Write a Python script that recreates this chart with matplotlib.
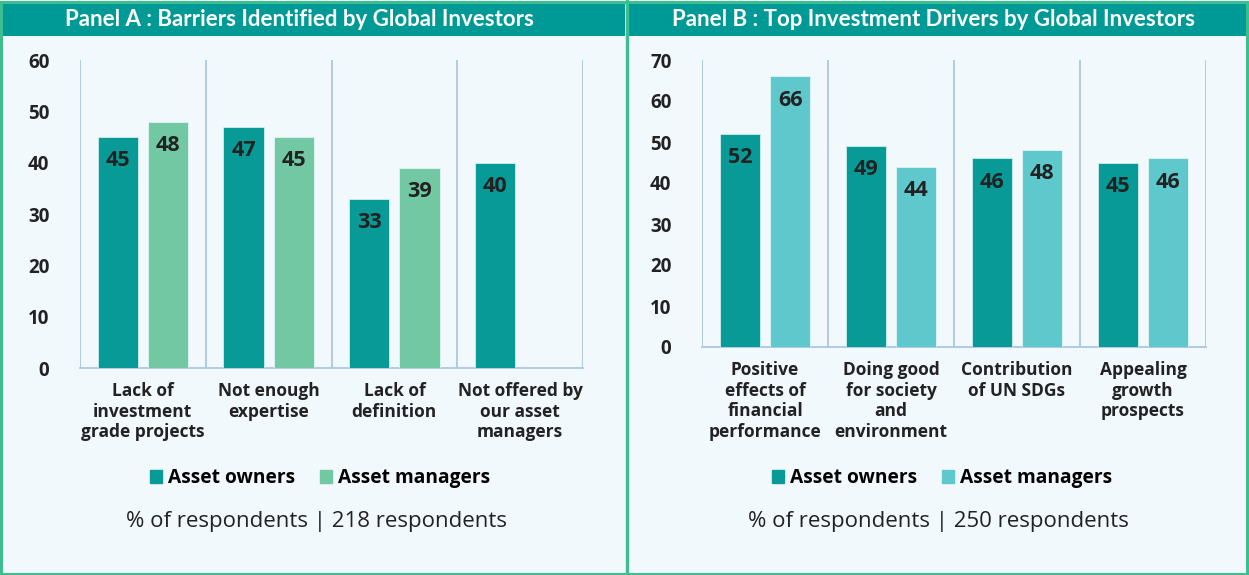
import numpy as np
import matplotlib.pyplot as plt
from matplotlib.patches import Rectangle, Patch

# ── Data ──────────────────────────────────────────────────────────────────────
series_names = ["Asset owners", "Asset managers"]

barrier_labels = ["Lack of\ninvestment\ngrade projects", "Not enough\nexpertise",
                  "Lack of\ndefinition", "Not offered by\nour asset\nmanagers"]
barrier_owners = [45, 47, 33, 40]
barrier_managers = [48, 45, 39, None]

driver_labels = ["Positive\neffects of\nfinancial\nperformance",
                 "Doing good\nfor society\nand\nenvironment",
                 "Contribution\nof UN SDGs", "Appealing\ngrowth\nprospects"]
driver_owners = [52, 49, 46, 45]
driver_managers = [66, 44, 48, 46]

panel_titles = ["Panel A : Barriers Identified by Global Investors",
                "Panel B : Top Investment Drivers by Global Investors"]
subtitles = ["% of respondents | 218 respondents",
             "% of respondents | 250 respondents"]

# ── Styling ───────────────────────────────────────────────────────────────────
W, H = 1249, 575
BG = "#f2f9fd"
BORDER = "#3dbe8e"
HEADER = "#009a96"
OWNER = "#079a96"
MANAGER_A = "#72c8a2"
MANAGER_B = "#5fc8cc"
GRID = "#a9c6e6"
TEXT = "#222222"
FONT = "Open Sans"


def fx(px):
    return px / W


def fy(py):
    return 1 - py / H


fig = plt.figure(figsize=(W / 100, H / 100), dpi=100)
fig.patch.set_facecolor(BG)

# background decorations: outer border, divider and header bars
deco = fig.add_axes([0, 0, 1, 1])
deco.set_xlim(0, W)
deco.set_ylim(H, 0)
deco.axis("off")
deco.add_patch(Rectangle((3, 3), 622, 33, color=HEADER, lw=0))
deco.add_patch(Rectangle((629, 3), 617, 33, color=HEADER, lw=0))
deco.add_patch(Rectangle((1.5, 1.5), W - 3, H - 3, fill=False, ec=BORDER, lw=2.2))
deco.plot([627.5, 627.5], [0, H], color=BORDER, lw=2.4)
deco.text(299, 20, panel_titles[0], color="white", fontsize=16, fontweight="bold",
          family="Lato", ha="center", va="center")
deco.text(934, 20, panel_titles[1], color="white", fontsize=16, fontweight="bold",
          family="Lato", ha="center", va="center")


def draw_panel(rect, labels, owners, managers, mgr_colour, ymax, subtitle,
               legend_x, sub_x):
    left, right, top, bottom = rect
    ax = fig.add_axes([fx(left), fy(bottom), fx(right - left), (bottom - top) / H])
    ax.set_facecolor("none")
    x = np.arange(len(labels))
    width = 0.32
    offset = 0.2

    owner_bars = ax.bar(x - offset, owners, width, color=OWNER,
                        edgecolor="#cdeeee", linewidth=0.6, zorder=3)
    mgr_x = [xi + offset for xi, v in zip(x, managers) if v is not None]
    mgr_v = [v for v in managers if v is not None]
    mgr_bars = ax.bar(mgr_x, mgr_v, width, color=mgr_colour,
                      edgecolor="#e0f5f2", linewidth=0.6, zorder=3)

    # value labels sit just inside the top of each bar
    for bars in (owner_bars, mgr_bars):
        for b in bars:
            ax.annotate(f"{b.get_height():.0f}",
                        (b.get_x() + b.get_width() / 2, b.get_height()),
                        xytext=(0, -17), textcoords="offset points",
                        ha="center", va="center", fontsize=15.5,
                        fontweight="bold", color=TEXT, family=FONT, zorder=4)

    ax.set_xlim(-0.5, len(labels) - 0.5)
    ax.set_ylim(0, ymax)
    for b in np.arange(-0.5, len(labels), 1.0):
        ax.axvline(b, color=GRID, lw=1.3, zorder=1)
    for s in ("top", "left", "right"):
        ax.spines[s].set_visible(False)
    ax.spines["bottom"].set_color(GRID)
    ax.spines["bottom"].set_linewidth(1.3)

    ax.set_yticks(range(0, ymax + 1, 10))
    ax.tick_params(axis="y", length=0, pad=22, labelsize=13.5, labelcolor=TEXT)
    ax.tick_params(axis="x", length=0, pad=10, labelsize=12.5, labelcolor=TEXT)
    for t in ax.get_yticklabels():
        t.set_fontweight("bold")
        t.set_family(FONT)
    ax.set_xticks(x)
    ax.set_xticklabels(labels, fontweight="bold", family=FONT, linespacing=1.2)

    handles = [Patch(color=OWNER), Patch(color=mgr_colour)]
    fig.legend(handles, series_names, loc="center", ncol=2, frameon=False,
               bbox_to_anchor=(fx(legend_x), fy(478)), handlelength=0.65,
               handleheight=0.65, handletextpad=0.3, columnspacing=1.3,
               prop={"family": FONT, "weight": "bold", "size": 13.8})
    fig.text(fx(sub_x), fy(522), subtitle,
             ha="center", va="center", fontsize=16, color=TEXT, family=FONT)
    return ax


draw_panel((80, 583, 60, 368), barrier_labels, barrier_owners, barrier_managers,
           MANAGER_A, 60, subtitles[0], 320, 316)
draw_panel((702, 1206, 60, 347), driver_labels, driver_owners, driver_managers,
           MANAGER_B, 70, subtitles[1], 942, 938)

fig.savefig("out.png", dpi=100, facecolor=BG)
